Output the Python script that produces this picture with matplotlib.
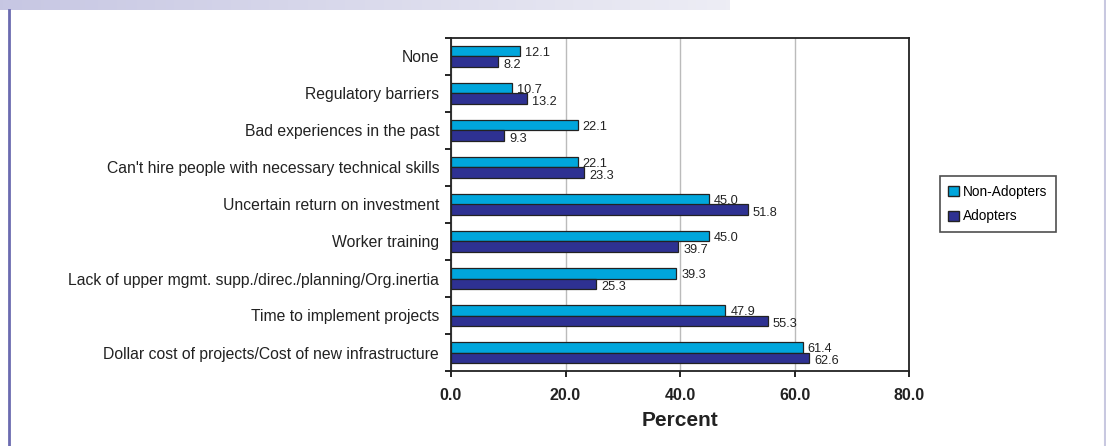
import matplotlib.pyplot as plt
import numpy as np
from matplotlib.lines import Line2D
import matplotlib.patches as mpatches

# barriers, listed bottom to top
categories = [
    "Dollar cost of projects/Cost of new infrastructure",
    "Time to implement projects",
    "Lack of upper mgmt. supp./direc./planning/Org.inertia",
    "Worker training",
    "Uncertain return on investment",
    "Can't hire people with necessary technical skills",
    "Bad experiences in the past",
    "Regulatory barriers",
    "None",
]
non_adopters = [61.4, 47.9, 39.3, 45.0, 45.0, 22.1, 22.1, 10.7, 12.1]
adopters = [62.6, 55.3, 25.3, 39.7, 51.8, 23.3, 9.3, 13.2, 8.2]
xticks = [0, 20, 40, 60, 80]

c_non = '#00a6dc'
c_ad = '#2e3192'

plt.rcParams['font.family'] = ['Liberation Sans', 'DejaVu Sans']

fig = plt.figure(figsize=(11.06, 4.46), dpi=100)

# header band fading to the right
band = fig.add_axes([0, 1 - 10 / 446, 730 / 1106, 10 / 446])
grad = np.linspace(0, 1, 256).reshape(1, -1)
start = np.array([0.78, 0.78, 0.89])
end = np.array([0.93, 0.93, 0.96])
img = start[None, None, :] * (1 - grad[..., None]) + end[None, None, :] * grad[..., None]
band.imshow(img, aspect='auto', extent=[0, 1, 0, 1])
band.axis('off')

# side rules
fig.add_artist(Line2D([8.5 / 1106, 8.5 / 1106], [0, 1 - 10 / 446], color='#6b6bb0', lw=2))
fig.add_artist(Line2D([1104.5 / 1106, 1104.5 / 1106], [0, 1], color='#c8c8e0', lw=1.5))

ax = fig.add_axes([451 / 1106, 1 - 371 / 446, 458 / 1106, 333 / 446])

y = np.arange(len(categories))
h = 0.28
ax.barh(y + h / 2, non_adopters, height=h, color=c_non, edgecolor='#222222', lw=0.9, zorder=3)
ax.barh(y - h / 2, adopters, height=h, color=c_ad, edgecolor='#222222', lw=0.9, zorder=3)

for yi, v in zip(y, non_adopters):
    ax.text(v + 0.9, yi + h / 2 - 0.01, f"{v:.1f}", va='center_baseline', ha='left',
            fontsize=9.2, color='#222222')
for yi, v in zip(y, adopters):
    ax.text(v + 0.9, yi - h / 2 - 0.04, f"{v:.1f}", va='center_baseline', ha='left',
            fontsize=9.2, color='#222222')

ax.set_xlim(0, 80)
ax.set_ylim(-0.5, len(categories) - 0.5)
ax.set_xticks(xticks)
ax.set_xticklabels([f"{t:.1f}" for t in xticks], fontsize=11.5, fontweight='bold', color='#222222')
ax.set_yticks(y)
ax.set_yticklabels(categories, fontsize=11.3, color='#222222')
ax.tick_params(axis='y', which='major', length=0, pad=8.5)
ax.set_yticks(np.arange(-0.5, len(categories), 1), minor=True)
ax.tick_params(axis='y', which='minor', length=4, width=1.2, direction='out')
ax.tick_params(axis='x', length=4, width=1.2, direction='out', pad=8)
ax.xaxis.grid(True, color='#bbbbbb', lw=1, zorder=0)
for s in ax.spines.values():
    s.set_linewidth(1.3)
    s.set_color('#222222')
ax.set_xlabel('Percent', fontsize=15, fontweight='bold', color='#222222', labelpad=6)

handles = [mpatches.Patch(facecolor=c_non, edgecolor='#222222', label='Non-Adopters'),
           mpatches.Patch(facecolor=c_ad, edgecolor='#222222', label='Adopters')]
leg = fig.legend(handles=handles, loc='center left', bbox_to_anchor=(940 / 1106, 1 - 204 / 446),
                 fontsize=9.8, frameon=True, fancybox=False, handlelength=0.8, handleheight=0.8,
                 handletextpad=0.3, borderpad=0.6, labelspacing=0.8, borderaxespad=0)
leg.get_frame().set_edgecolor('#222222')
leg.get_frame().set_linewidth(1.2)

fig.savefig('out.png', dpi=100)
